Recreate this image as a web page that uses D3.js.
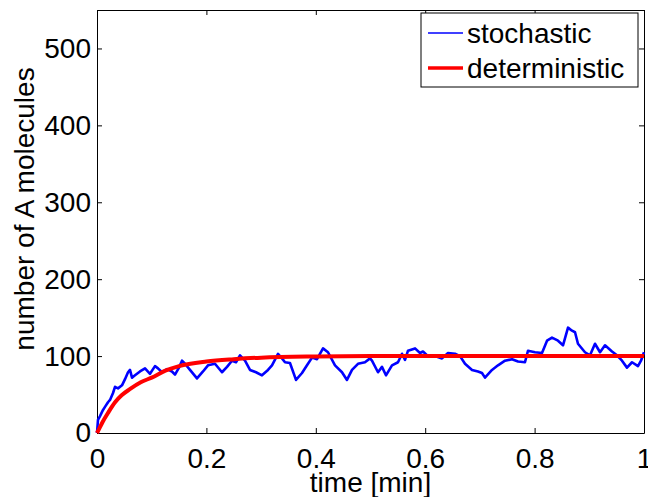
<!DOCTYPE html>
<html>
<head>
<meta charset="utf-8">
<script src="https://cdn.jsdelivr.net/npm/d3@7"></script>
<style>
  body { margin: 0; background: #fff; }
  svg { display: block; }
  text { font-family: "Liberation Sans", Arial, Helvetica, sans-serif; fill: #000; }
  .axis path, .axis line { stroke: #000; stroke-width: 1; }
</style>
</head>
<body>
<svg width="648" height="497"></svg>
<script>
// stochastic run (time in min, molecules)
const stochT = [0, 0.0018, 0.0055, 0.011, 0.0146, 0.0201, 0.0238, 0.0293, 0.0329, 0.0384,
  0.0457, 0.0512, 0.0567, 0.0603, 0.064, 0.0695, 0.0786, 0.0878, 0.0969, 0.106,
  0.1115, 0.1188, 0.128, 0.1371, 0.1426, 0.1499, 0.1554, 0.1609, 0.17, 0.1828,
  0.1938, 0.2029, 0.2157, 0.2285, 0.2377, 0.2468, 0.2541, 0.2614, 0.2706, 0.2797,
  0.2907, 0.3016, 0.3126, 0.3199, 0.3309, 0.3382, 0.3437, 0.3528, 0.3638, 0.3748,
  0.3839, 0.3931, 0.4022, 0.4132, 0.4223, 0.4351, 0.4479, 0.457, 0.4662, 0.4771,
  0.4899, 0.4991, 0.5027, 0.5137, 0.521, 0.5283, 0.5393, 0.5503, 0.5576, 0.5631,
  0.5686, 0.5814, 0.5905, 0.596, 0.6051, 0.6124, 0.6216, 0.6307, 0.6417, 0.6545,
  0.6636, 0.6728, 0.6856, 0.6965, 0.7038, 0.7093, 0.7221, 0.7331, 0.7459, 0.7587,
  0.7697, 0.7824, 0.7879, 0.8007, 0.8135, 0.8227, 0.8318, 0.8428, 0.8519, 0.8611,
  0.8684, 0.8739, 0.8793, 0.8921, 0.9013, 0.9104, 0.9196, 0.9287, 0.9415, 0.9506,
  0.9598, 0.9689, 0.9781, 0.989, 0.9945, 1.0]
const stochA = [0, 17, 22, 30, 34, 40, 43, 52, 60, 58,
  62, 70, 79, 82, 72, 75, 80, 84, 77, 87,
  84, 79, 83, 80, 76, 85, 94, 90, 82, 71,
  80, 88, 90, 79, 86, 94, 92, 101, 94, 82,
  79, 75, 82, 88, 103, 97, 92, 91, 69, 78,
  88, 98, 96, 110, 105, 88, 79, 69, 82, 90,
  92, 97, 94, 79, 86, 75, 88, 92, 103, 95,
  107, 110, 104, 106, 100, 101, 99, 97, 104, 103,
  100, 90, 82, 80, 78, 72, 82, 88, 94, 96,
  93, 92, 107, 105, 104, 120, 124, 120, 114, 137,
  133, 131, 116, 105, 101, 116, 105, 114, 106, 101,
  94, 85, 92, 87, 94, 105]

// deterministic solution
const detT = [0, 0.005, 0.01, 0.02, 0.033, 0.045, 0.06, 0.08, 0.1, 0.125, 0.15, 0.2, 0.25, 0.3, 0.4, 0.5, 0.6, 0.8, 1]
const detA = [0, 7, 14, 26, 40, 49, 57, 66, 72, 81, 87, 93, 96, 98, 99.5, 100, 100, 100, 100]

const xTicks = [0, 0.2, 0.4, 0.6, 0.8, 1]
const yTicks = [0, 100, 200, 300, 400, 500]
const seriesNames = ['stochastic', 'deterministic']
const seriesColors = ['#0000ff', '#ff0000']

// axes box
const boxL = 97, boxR = 644, boxT = 10, boxB = 433

const svg = d3.select('svg')

const x = d3.scaleLinear().domain([0, 1]).range([boxL, boxR])
const y = d3.scaleLinear().domain([0, 550]).range([boxB, boxT])

const fmt = d => d === 0 ? '0' : d === 1 ? '1' : d3.format('.1f')(d)

// bottom / left with labels, ticks pointing inward
svg.append('g')
  .attr('class', 'axis')
  .attr('transform', `translate(0,${boxB})`)
  .call(d3.axisBottom(x).tickValues(xTicks).tickFormat(fmt).tickSizeInner(-5).tickSizeOuter(0).tickPadding(15))
  .call(g => g.selectAll('text').style('font-size', '28px'))

svg.append('g')
  .attr('class', 'axis')
  .attr('transform', `translate(${boxL},0)`)
  .call(d3.axisLeft(y).tickValues(yTicks).tickSizeInner(-5).tickSizeOuter(0).tickPadding(6))
  .call(g => g.selectAll('text').style('font-size', '28px'))

// top / right: ticks only
svg.append('g')
  .attr('class', 'axis')
  .attr('transform', `translate(0,${boxT})`)
  .call(d3.axisTop(x).tickValues(xTicks).tickFormat('').tickSizeInner(-5).tickSizeOuter(0))

svg.append('g')
  .attr('class', 'axis')
  .attr('transform', `translate(${boxR},0)`)
  .call(d3.axisRight(y).tickValues(yTicks).tickFormat('').tickSizeInner(-5).tickSizeOuter(0))

// lines
const line = d3.line().x(d => x(d[0])).y(d => y(d[1]))

svg.append('path')
  .datum(stochT.map((t, i) => [t, stochA[i]]))
  .attr('fill', 'none')
  .attr('stroke', seriesColors[0])
  .attr('stroke-width', 2.6)
  .attr('stroke-linejoin', 'round')
  .attr('d', line)

svg.append('path')
  .datum(detT.map((t, i) => [t, detA[i]]))
  .attr('fill', 'none')
  .attr('stroke', seriesColors[1])
  .attr('stroke-width', 4)
  .attr('d', line.curve(d3.curveMonotoneX))

// axis titles
svg.append('text')
  .attr('x', (boxL + boxR) / 2)
  .attr('y', 492)
  .attr('text-anchor', 'middle')
  .style('font-size', '28px')
  .text('time [min]')

svg.append('text')
  .attr('transform', 'translate(34,209) rotate(-90)')
  .attr('text-anchor', 'middle')
  .style('font-size', '28px')
  .text('number of A molecules')

// legend
const lg = svg.append('g').attr('transform', 'translate(421,13)')
lg.append('rect')
  .attr('width', 217).attr('height', 74)
  .attr('fill', '#fff').attr('stroke', '#000').attr('stroke-width', 1)

seriesNames.forEach((name, i) => {
  const yy = 20 + i * 35
  lg.append('line')
    .attr('x1', 7).attr('x2', 42).attr('y1', yy).attr('y2', yy)
    .attr('stroke', seriesColors[i])
    .attr('stroke-width', i === 0 ? 1.5 : 3.5)
  lg.append('text')
    .attr('x', 46).attr('y', yy + 10)
    .style('font-size', '28px')
    .text(name)
})
</script>
</body>
</html>
